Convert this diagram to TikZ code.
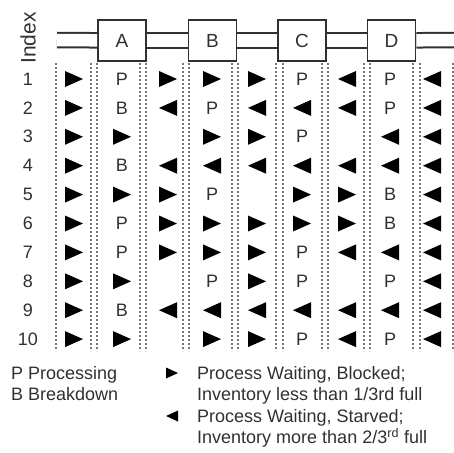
\documentclass[tikz,border=0pt]{standalone}
\usepackage{fontspec}
\setmainfont{Liberation Sans}
\definecolor{inkgray}{HTML}{303030}
\definecolor{dotgray}{HTML}{777777}
\usetikzlibrary{positioning}

\begin{document}
\begin{tikzpicture}[x=1pt,y=-1pt,every node/.style={text=inkgray,inner sep=0pt},
    stn/.style={draw=inkgray,fill=white,line width=1.8pt,minimum width=48pt,minimum height=41pt,font=\fontsize{19}{22}\selectfont},
    pipe/.style={draw=inkgray,line width=2pt,double,double distance=12.5pt},
    sep/.style={dotgray,line width=2pt,dash pattern=on 2pt off 2pt},
    tri/.style={minimum width=18pt,minimum height=16pt},
    sR/.style={tri,node contents={},path picture={\fill[black] (path picture bounding box.north west)
      -- (path picture bounding box.east) -- (path picture bounding box.south west) -- cycle;}},
    sL/.style={tri,node contents={},path picture={\fill[black] (path picture bounding box.north east)
      -- (path picture bounding box.west) -- (path picture bounding box.south east) -- cycle;}},
    sP/.style={font=\fontsize{18}{20}\selectfont,node contents=P},
    sB/.style={font=\fontsize{18}{20}\selectfont,node contents=B},
    s0/.style={node contents={}},
    leg/.style={font=\fontsize{18}{21}\selectfont,anchor=base west}]
  \useasboundingbox (0,0) rectangle (454,452);
  % line with four stations
  \coordinate (src) at (57,40);
  \coordinate (snk) at (454,40);
  \node[stn] (A) at (122,40.5) {A};
  \node[stn] (B) at (212.5,40.5) {B};
  \node[stn] (C) at (302,40.5) {C};
  \node[stn] (D) at (391.5,40.5) {D};
  \draw[pipe] (src) -- (A); \draw[pipe] (A) -- (B); \draw[pipe] (B) -- (C);
  \draw[pipe] (C) -- (D); \draw[pipe] (D) -- (snk);
  \node[rotate=90,font=\fontsize{21}{24}\selectfont] (idx) at (28,38) {Index};
  % column separators
  \foreach \x in {56,91,97,140,146,183,189,232,238,276,283,322,328,364,370,413,420,453}
    \draw[sep] (\x,63) -- (\x,351);
  % states per index
  \foreach \cells [count=\r] in {
      {sR,sP,sR,sR,sR,sP,sL,sP,sL},
      {sR,sB,sL,sP,sL,sL,sL,sP,sL},
      {sR,sR,s0,sR,sR,sP,s0,sL,sL},
      {sR,sB,sL,sL,sL,sL,sL,sL,sL},
      {sR,sR,sR,sP,s0,sR,sR,sB,sL},
      {sR,sP,sR,sR,sR,sR,sR,sB,sL},
      {sR,sP,sR,sR,sR,sP,sL,sL,sL},
      {sR,sR,s0,sP,sR,sP,s0,sP,sL},
      {sR,sB,sL,sL,sL,sL,sL,sL,sL},
      {sR,sR,s0,sR,sR,sP,sL,sP,sL}} {
    \node[font=\fontsize{18}{20}\selectfont] (n\r) at (28,{79+28.9*(\r-1)}) {\r};
    \foreach \s [count=\c from 0] in \cells {
      \pgfmathsetmacro{\cx}{{74,122,168,212,257,302,347,390,432}[\c]}
      \node (c\r-\c) at (\cx,{79+28.9*(\r-1)}) [\s];
    }
  }
  % key
  \node[leg] (kP) at (11,379) {P Processing};
  \node[leg] (kB) at (11,400) {B Breakdown};
  \node (kR) at (172,373) [sR,minimum width=12pt,minimum height=11pt];
  \node[leg] (kR1) at (197,379) {Process Waiting, Blocked;};
  \node[leg] (kR2) at (197,400.5) {Inventory less than 1/3rd full};
  \node (kL) at (172,416) [sL,minimum width=12pt,minimum height=11pt];
  \node[leg] (kL1) at (197,422) {Process Waiting, Starved;};
  \node[leg] (kL2) at (197,443.5) {Inventory more than 2/3\textsuperscript{rd} full};
\end{tikzpicture}
\end{document}
